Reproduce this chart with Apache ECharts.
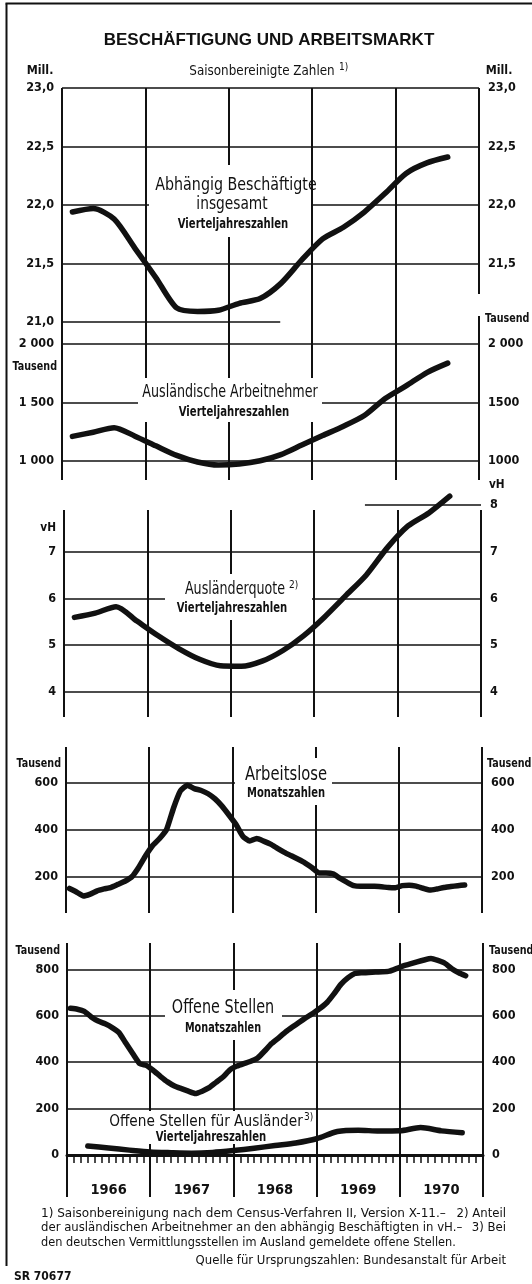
<!DOCTYPE html>
<html>
<head>
<meta charset="utf-8">
<title>Beschäftigung und Arbeitsmarkt</title>
<script src="https://cdn.jsdelivr.net/npm/echarts@6.0.0/dist/echarts.min.js"></script>
<style>
  html, body { margin: 0; padding: 0; background: #fff; }
  #chart { width: 532px; height: 1284px; }
</style>
</head>
<body>
<div id="chart"></div>
<script>
// ---- data ----
const years = ['1966', '1967', '1968', '1969', '1970'];

// Vierteljahreszahlen 1966 I - 1970 III
const beschaeftigte = [21.94, 21.97, 21.88, 21.63, 21.38, 21.12, 21.09, 21.10, 21.16, 21.20, 21.33, 21.53, 21.71, 21.81, 21.94, 22.10, 22.27, 22.36, 22.41]; // Mill.
const auslArbeitnehmer = [1207, 1243, 1282, 1209, 1126, 1044, 987, 961, 970, 998, 1051, 1133, 1214, 1294, 1386, 1532, 1640, 1755, 1836]; // Tausend
const auslQuote = [5.59, 5.68, 5.82, 5.51, 5.20, 4.92, 4.69, 4.55, 4.54, 4.65, 4.88, 5.20, 5.60, 6.05, 6.50, 7.08, 7.55, 7.83, 8.19]; // vH
const offeneAusl = [39, 30, 21, 13, 10, 8, 11, 19, 29, 41, 52, 70, 101, 107, 103, 104, 118, 104, 96]; // Tausend

// Monatszahlen Jan 1966 - Okt 1970 (Tausend)
const arbeitslose = [148, 133, 116, 124, 138, 146, 153, 166, 179, 198, 239, 289, 332, 362, 400, 492, 566, 590, 576, 568,
  554, 532, 501, 463, 423, 372, 351, 362, 351, 338, 320, 303, 288, 273, 257, 237, 214, 214, 211, 192,
  175, 160, 157, 157, 157, 155, 152, 151, 160, 162, 158, 149, 141, 146, 152, 156, 160, 163];
const offeneStellen = [632, 628, 619, 595, 577, 565, 549, 527, 481, 436, 393, 385, 363, 338, 315, 297, 286, 275, 265, 275,
  290, 313, 336, 367, 383, 394, 404, 418, 448, 480, 504, 529, 551, 572, 592, 611, 632, 657, 694, 735,
  763, 782, 785, 786, 788, 789, 792, 803, 815, 823, 832, 840, 846, 838, 826, 802, 785, 772];

// tick labels
const ticksMill = ['21,0', '21,5', '22,0', '22,5', '23,0'];
const ticksAuslLeft = ['1 000', '1 500', '2 000'];
const ticksAuslRight = ['1000', '1500', '2 000'];
const ticksQuote = ['4', '5', '6', '7', '8'];
const ticksArbeitslose = ['0', '200', '400', '600'];
const ticksOffene = ['0', '200', '400', '600', '800'];

// x positions in months from Jan 1966
const quarterMid = i => i * 3 + 1.5;
const quarterEnd = i => i * 3 + 3;
const monthMid = i => i + 0.5;

const INK = '#111';
const NARROW = "'DejaVu Sans Condensed', 'Liberation Sans Narrow', 'Arial Narrow', sans-serif";

const chart = echarts.init(document.getElementById('chart'));

// frame grids carry the year separators, data grids the horizontal lines
const grids = [
  { left: 62, width: 417, top: 88, height: 392 },     // 0 frame panel 1+2
  { left: 62, width: 417, top: 88, height: 234 },     // 1 Mill.
  { left: 62, width: 417, top: 344, height: 116.5 },  // 2 Ausl. Arbeitnehmer
  { left: 64, width: 417, top: 510, height: 207 },    // 3 frame panel 3
  { left: 64, width: 417, top: 505, height: 186.5 },  // 4 Quote
  { left: 66, width: 416, top: 747, height: 166 },    // 5 frame panel 4
  { left: 66, width: 416, top: 783, height: 140 },    // 6 Arbeitslose
  { left: 67, width: 416, top: 943, height: 254 },    // 7 frame panel 5
  { left: 67, width: 416, top: 969.3, height: 185.7 } // 8 Offene Stellen
].map(g => Object.assign({ containLabel: false, outerBoundsMode: 'none' }, g));

const frameX = gridIndex => ({
  type: 'category', gridIndex, data: years, boundaryGap: true,
  axisLine: { show: false }, axisTick: { show: false }, axisLabel: { show: false },
  splitLine: { show: true, lineStyle: { color: INK, width: 2 } }
});
const frameY = gridIndex => ({ type: 'value', gridIndex, min: 0, max: 1, show: false });
const dataX = gridIndex => ({ type: 'value', gridIndex, min: 0, max: 60, show: false });

function valueY(gridIndex, position, min, max, interval, labels, split) {
  return {
    type: 'value', gridIndex, position, min, max, interval,
    axisLine: { show: false }, axisTick: { show: false },
    axisLabel: {
      margin: position === 'left' ? 8 : 9, color: INK, fontFamily: NARROW, fontWeight: 'bold', fontSize: 12.5,
      formatter: v => labels[Math.round((v - min) / interval)] || ''
    },
    splitLine: Object.assign({ show: position === 'left', lineStyle: { color: INK, width: 1.6 } }, split || {})
  };
}

const xAxes = [
  frameX(0), dataX(1), dataX(2), frameX(3), dataX(4), frameX(5), dataX(6), frameX(7),
  {
    type: 'value', gridIndex: 8, min: 0, max: 60, interval: 1,
    axisLine: { show: true, lineStyle: { color: INK, width: 3 } },
    axisTick: { show: true, length: 8, lineStyle: { color: INK, width: 1.5 } },
    axisLabel: { show: false }, splitLine: { show: false }
  },
  {
    type: 'category', gridIndex: 8, data: years, position: 'bottom', boundaryGap: true,
    axisLine: { show: false }, axisTick: { show: false }, splitLine: { show: false },
    axisLabel: { margin: 28, color: INK, fontFamily: NARROW, fontWeight: 'bold', fontSize: 14.5 }
  }
];

const yAxes = [
  frameY(0),
  valueY(1, 'left', 21, 23, 0.5, ticksMill, { showMinLine: false }),
  valueY(2, 'left', 1000, 2000, 500, ticksAuslLeft),
  frameY(3),
  valueY(4, 'left', 4, 8, 1, ticksQuote.map((t, i) => i === 4 ? '' : t), { showMaxLine: false }),
  frameY(5),
  valueY(6, 'left', 0, 600, 200, ticksArbeitslose.map((t, i) => i === 0 ? '' : t), { showMinLine: false }),
  frameY(7),
  valueY(8, 'left', 0, 800, 200, ticksOffene),
  valueY(1, 'right', 21, 23, 0.5, ticksMill.map((t, i) => i === 0 ? '' : t)),
  valueY(2, 'right', 1000, 2000, 500, ticksAuslRight),
  valueY(4, 'right', 4, 8, 1, ticksQuote),
  valueY(6, 'right', 0, 600, 200, ticksArbeitslose.map((t, i) => i === 0 ? '' : t)),
  valueY(8, 'right', 0, 800, 200, ticksOffene)
];

const curveStyle = { color: INK, width: 5.5, cap: 'round', join: 'round' };
const partLine = (from, to, y) => ({
  silent: true, symbol: ['none', 'none'], label: { show: false },
  lineStyle: { color: INK, width: 1.6, type: 'solid' },
  data: [[{ coord: [from, y] }, { coord: [to, y] }]]
});
function curve(axisIndex, yAxisIndex, data, extra) {
  return Object.assign({
    type: 'line', xAxisIndex: axisIndex, yAxisIndex, data,
    showSymbol: false, symbol: 'none', smooth: 0.25, clip: false, z: 60, silent: true,
    lineStyle: curveStyle, itemStyle: { color: INK }
  }, extra || {});
}

const series = [
  curve(1, 1, beschaeftigte.map((v, i) => [quarterMid(i), v]), { markLine: partLine(0, 31.4, 21) }),
  curve(2, 2, auslArbeitnehmer.map((v, i) => [quarterMid(i), v])),
  curve(4, 4, auslQuote.map((v, i) => [quarterMid(i), v]), { markLine: partLine(43.3, 60, 8) }),
  curve(6, 6, arbeitslose.map((v, i) => [monthMid(i), v]), { smooth: 0.15 }),
  curve(8, 8, offeneStellen.map((v, i) => [monthMid(i), v]), { smooth: 0.15 }),
  curve(8, 8, offeneAusl.map((v, i) => [quarterEnd(i), v]))
];

// ---- texts (scaleX narrows the face like the printed original) ----
const txt = (x, y, text, size, opt) => {
  opt = opt || {};
  return {
    type: 'text', x, y, z: 50, silent: true, scaleX: opt.sx || 1,
    style: {
      text, fill: INK, align: opt.align || 'center', verticalAlign: 'middle',
      font: (opt.bold ? 'bold ' : '') + size + 'px ' + (opt.family || NARROW)
    }
  };
};
const mask = (x, y, w, h) => ({ type: 'rect', z: 40, silent: true, shape: { x, y, width: w, height: h }, style: { fill: '#fff' } });

const graphics = [
  // frame
  { type: 'line', z: 50, shape: { x1: 6.5, y1: 3.5, x2: 6.5, y2: 1266 }, style: { stroke: INK, lineWidth: 2 } },
  { type: 'line', z: 50, shape: { x1: 5.5, y1: 3.5, x2: 532, y2: 3.5 }, style: { stroke: INK, lineWidth: 2 } },

  // masks where labels interrupt the grid
  mask(149, 165, 162, 72),
  mask(138, 378, 184, 44),
  mask(165, 574, 147, 46),
  mask(235, 758, 97, 47),
  mask(165, 990, 117, 50),
  mask(105, 1111, 203, 33),
  mask(476, 294, 6, 22),

  txt(269, 40, 'BESCHÄFTIGUNG UND ARBEITSMARKT', 17, { bold: true, family: "'Liberation Sans', Arial, sans-serif" }),
  txt(262, 71, 'Saisonbereinigte Zahlen', 14, { sx: 0.95 }),
  txt(339, 67, '1)', 10, { align: 'left' }),
  txt(40, 71, 'Mill.', 13, { bold: true, sx: 0.95 }),
  txt(499, 71, 'Mill.', 13, { bold: true, sx: 0.95 }),

  txt(57, 367, 'Tausend', 13, { bold: true, align: 'right', sx: 0.82 }),
  txt(485, 319, 'Tausend', 13, { bold: true, align: 'left', sx: 0.82 }),
  txt(56, 528, 'vH', 13, { bold: true, align: 'right', sx: 0.9 }),
  txt(489, 485, 'vH', 13, { bold: true, align: 'left', sx: 0.9 }),
  txt(61, 764, 'Tausend', 13, { bold: true, align: 'right', sx: 0.82 }),
  txt(487, 764, 'Tausend', 13, { bold: true, align: 'left', sx: 0.82 }),
  txt(60, 951, 'Tausend', 13, { bold: true, align: 'right', sx: 0.82 }),
  txt(489, 951, 'Tausend', 13, { bold: true, align: 'left', sx: 0.82 }),

  txt(236, 185, 'Abhängig Beschäftigte', 18, { sx: 0.88 }),
  txt(232, 204, 'insgesamt', 18, { sx: 0.85 }),
  txt(233, 224, 'Vierteljahreszahlen', 14, { bold: true, sx: 0.8 }),

  txt(230, 393, 'Ausländische Arbeitnehmer', 17, { sx: 0.83 }),
  txt(234, 412, 'Vierteljahreszahlen', 14, { bold: true, sx: 0.8 }),

  txt(235, 590, 'Ausländerquote', 17, { sx: 0.83 }),
  txt(289, 585, '2)', 10, { align: 'left' }),
  txt(232, 608, 'Vierteljahreszahlen', 14, { bold: true, sx: 0.8 }),

  txt(286, 775, 'Arbeitslose', 20, { sx: 0.82 }),
  txt(286, 793, 'Monatszahlen', 14, { bold: true, sx: 0.79 }),

  txt(223, 1008, 'Offene Stellen', 20, { sx: 0.8 }),
  txt(223, 1028, 'Monatszahlen', 14, { bold: true, sx: 0.77 }),

  txt(206, 1122, 'Offene Stellen für Ausländer', 16, { sx: 0.95 }),
  txt(304, 1117, '3)', 10, { align: 'left' }),
  txt(211, 1137, 'Vierteljahreszahlen', 14, { bold: true, sx: 0.8 }),

  // footnotes
  txt(41, 1214, '1) Saisonbereinigung nach dem Census-Verfahren II, Version X-11.–', 13, { align: 'left', sx: 1.03 }),
  txt(506, 1214, '2) Anteil', 13, { align: 'right' }),
  txt(41, 1228, 'der ausländischen Arbeitnehmer an den abhängig Beschäftigten in vH.–', 13, { align: 'left' }),
  txt(506, 1228, '3) Bei', 13, { align: 'right' }),
  txt(41, 1243, 'den deutschen Vermittlungsstellen im Ausland gemeldete offene Stellen.', 13, { align: 'left', sx: 0.97 }),
  txt(506, 1261, 'Quelle für Ursprungszahlen: Bundesanstalt für Arbeit', 13, { align: 'right' }),
  txt(14, 1277, 'SR 70677', 12, { bold: true, align: 'left' })
];

chart.setOption({
  animation: false,
  backgroundColor: '#fff',
  grid: grids,
  xAxis: xAxes,
  yAxis: yAxes,
  series,
  graphic: { elements: graphics }
});
</script>
</body>
</html>
